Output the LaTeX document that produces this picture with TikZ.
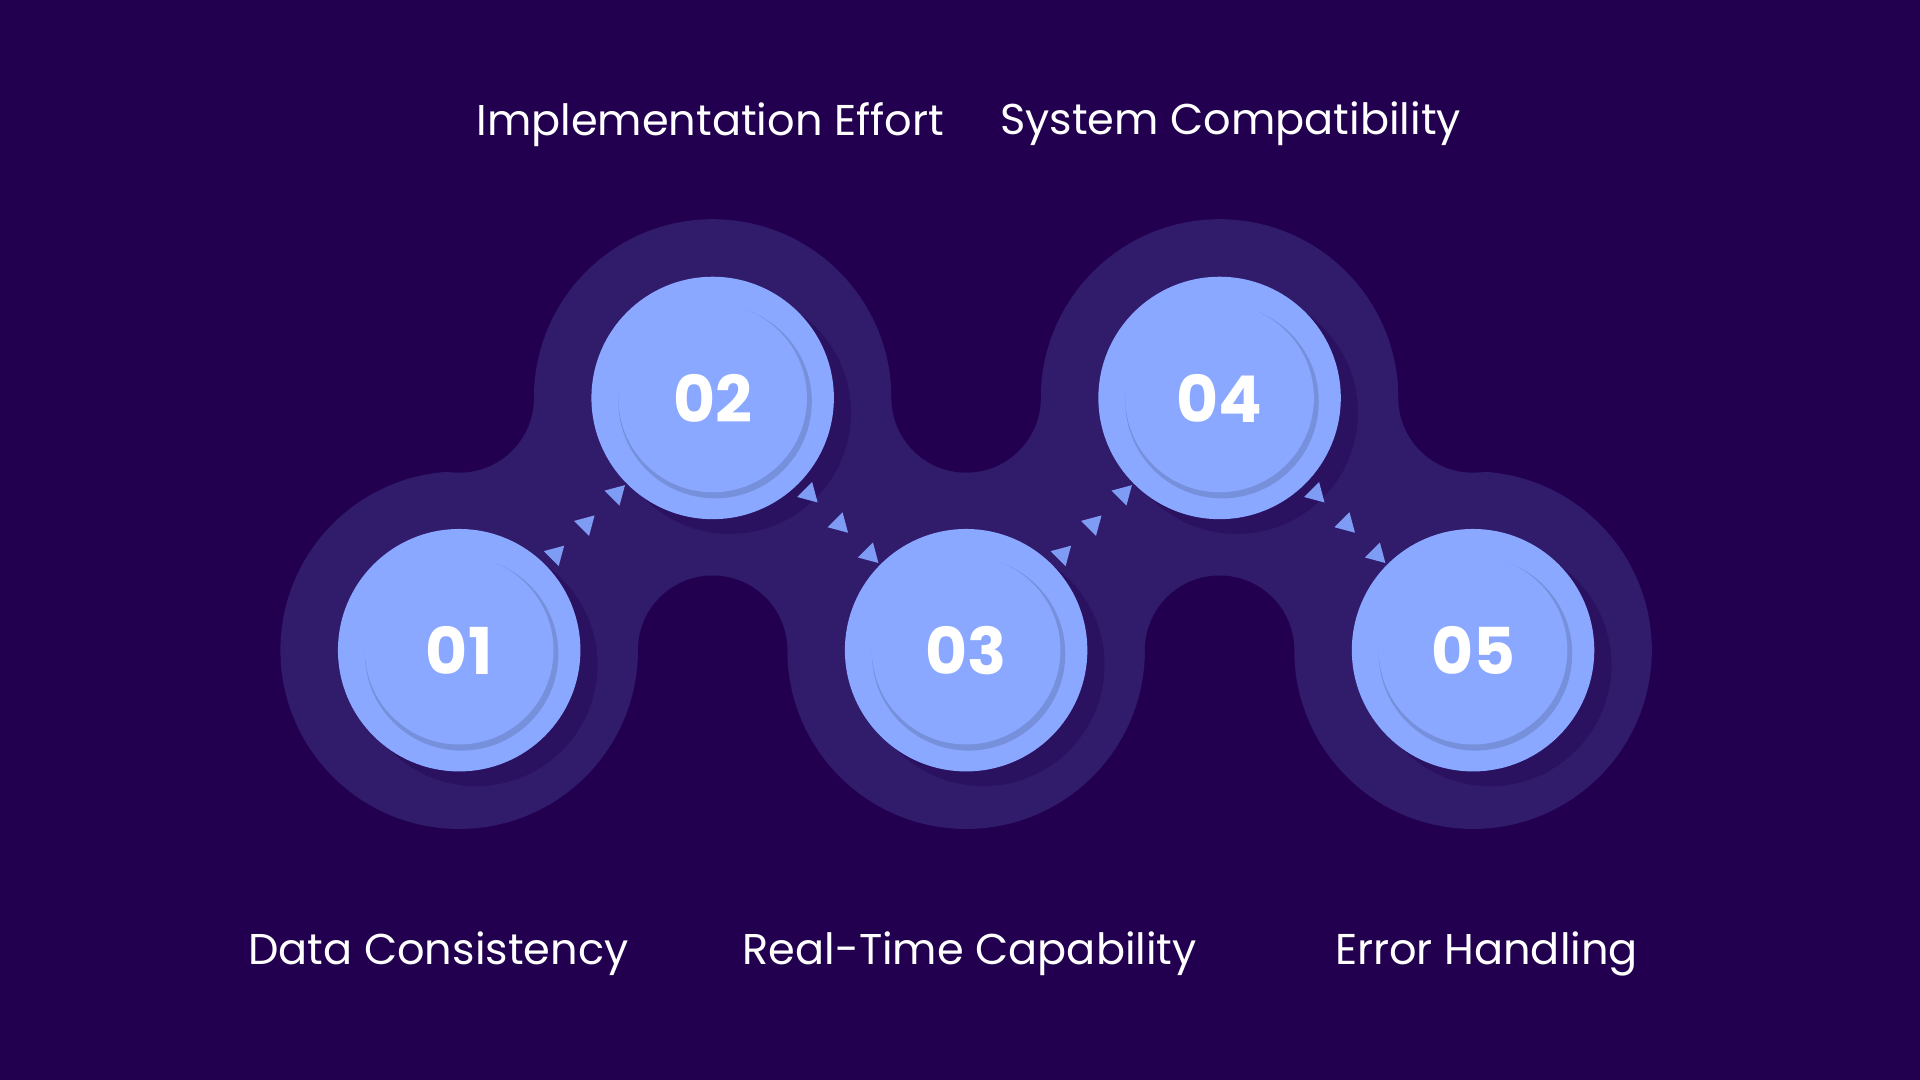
\documentclass[tikz,border=0pt]{standalone}
\usepackage{fontspec}
\setmainfont{Poppins}
\usetikzlibrary{shapes.geometric,calc,positioning}
\definecolor{bg}{HTML}{22004F}
\definecolor{halo}{HTML}{311B6B}
\definecolor{disc}{HTML}{8AA8FF}
\definecolor{discshade}{HTML}{2A1260}
\definecolor{arrowc}{HTML}{7F9CF5}
\newlength{\pxu}\setlength{\pxu}{0.01cm}
\tikzset{
  stage/.style={circle,fill=disc,minimum size=198\pxu,inner sep=0pt,text=white,font=\fontsize{15}{15}\selectfont\bfseries},
  lbl/.style={text=white,font=\fontsize{10}{12}\selectfont},
  tip/.style={isosceles triangle,isosceles triangle apex angle=60,fill=arrowc,inner sep=0pt,minimum height=15\pxu,minimum width=15\pxu}
}
\begin{document}
\begin{tikzpicture}[x=0.01cm,y=-0.01cm]
        \fill[bg] (0,0) rectangle (1568,882);
        \useasboundingbox (0,0) rectangle (1568,882);
%
        \fill[halo] (375,325) rectangle (1203,531);
        \foreach \x/\y in {375/531,582/325,789/531,996/325,1203/531}
          \fill[halo] (\x,\y) circle (146);
        \foreach \x/\y in {375/325,582/531,789/325,996/531,1203/325}
          \fill[bg] (\x,\y) circle (61);
%
        \foreach \x/\y in {375/531,582/325,789/531,996/325,1203/531}
          \fill[discshade] (\x+14,\y+12) circle (99);
        \node[stage] (S1) at (375,531) {};
        \node[stage] (S2) at (582,325) {};
        \node[stage] (S3) at (789,531) {};
        \node[stage] (S4) at (996,325) {};
        \node[stage] (S5) at (1203,531) {};
        \foreach \n in {1,...,5} {
          \fill[black!40!disc,opacity=0.35] ($(S\n)+(2,3)$) circle (79);
          \fill[disc] (S\n) circle (77);
        }
        \node[stage,fill=none] at (S1) {01};
        \node[stage,fill=none] at (S2) {02};
        \node[stage,fill=none] at (S3) {03};
        \node[stage,fill=none] at (S4) {04};
        \node[stage,fill=none] at (S5) {05};
%
        \foreach \a/\b/\r in {S1/S2/45,S2/S3/-45,S3/S4/45,S4/S5/-45}
          \foreach \t in {0.38,0.5,0.62}
            \node[tip,rotate=\r] at ($(\a)!\t!(\b)$) {};
%
        \node[lbl] (L2) at (580,102) {Implementation Effort};
        \node[lbl] (L4) at (1005,101) {System Compatibility};
        \node[lbl] (L1) at (358,779) {Data Consistency};
        \node[lbl] (L3) at (792,779) {Real-Time Capability};
        \node[lbl] (L5) at (1214,779) {Error Handling};
\end{tikzpicture}
\end{document}
